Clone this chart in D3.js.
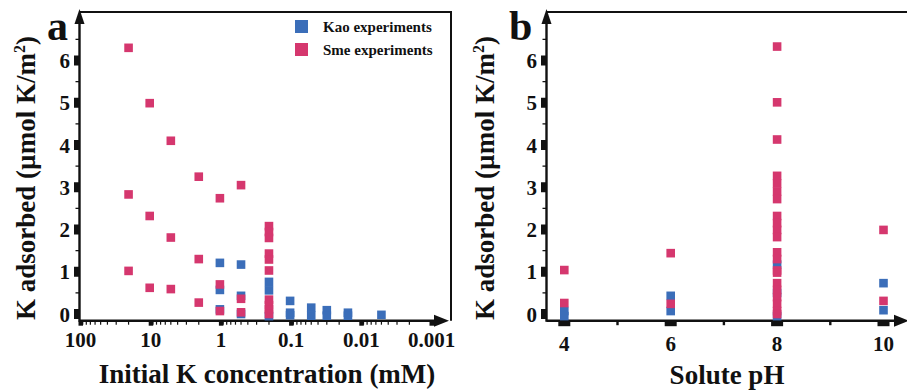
<!DOCTYPE html>
<html>
<head>
<meta charset="utf-8">
<script src="https://cdn.jsdelivr.net/npm/d3@7"></script>
<style>
  body { margin: 0; background: #fff; }
  text { font-family: "Liberation Serif", "Times New Roman", serif; font-weight: bold; fill: #111; }
</style>
</head>
<body>
<div id="main"></div>
<script>
// panel a : K adsorbed vs initial K concentration (mM)
var concKao = [1, 1, 1, 0.5, 0.5, 0.5, 0.2, 0.2, 0.2, 0.1, 0.1, 0.1, 0.05, 0.05, 0.03, 0.03, 0.015, 0.015, 0.005];
var kKao    = [1.21, 0.57, 0.11, 1.17, 0.43, 0.0, 0.76, 0.56, -0.05, 0.31, 0.03, -0.03, 0.15, -0.04, 0.09, -0.04, 0.03, -0.04, -0.02];
var concSme = [20, 20, 20, 10, 10, 10, 5, 5, 5, 2, 2, 2, 1, 1, 1, 0.5, 0.5, 0.5,
               0.2, 0.2, 0.2, 0.2, 0.2, 0.2, 0.2, 0.2, 0.2, 0.2];
var kSme    = [6.30, 2.83, 1.02, 4.99, 2.32, 0.62, 4.10, 1.81, 0.59, 3.25, 1.30, 0.27, 2.74, 0.70, 0.07, 3.05, 0.36, 0.04,
               2.08, 1.94, 1.80, 1.43, 1.29, 1.03, 0.34, 0.21, 0.11, 0.0];

// panel b : K adsorbed vs solute pH
var phKao  = [4, 4, 6, 6, 8, 8, 8, 10, 10];
var kKaoPH = [0.07, -0.05, 0.43, 0.07, 1.17, 0.50, -0.05, 0.73, 0.09];
var phSme  = [4, 4, 6, 6, 10, 10,
              8, 8, 8, 8, 8, 8, 8, 8, 8, 8, 8, 8, 8, 8, 8, 8, 8, 8, 8, 8, 8];
var kSmePH = [1.04, 0.26, 1.44, 0.24, 1.99, 0.31,
              6.33, 5.01, 4.13, 3.27, 3.09, 2.90, 2.72, 2.32, 2.15, 1.99, 1.82, 1.46, 1.30, 1.03, 0.98, 0.73, 0.57, 0.40, 0.24, 0.07, 0.0];

var yTicks = [0, 1, 2, 3, 4, 5, 6];
var concTicks = [100, 10, 1, 0.1, 0.01, 0.001];
var concTickLabels = ["100", "10", "1", "0.1", "0.01", "0.001"];
var phTicks = [4, 6, 8, 10];
var phMinor = [5, 7, 9];
var seriesNames = ["Kao experiments", "Sme experiments"];
var kaoColor = "#3b6eb9", smeColor = "#d5376e";

var W = 907, H = 390;
var topY = 12, axisY = 320.7, sq = 8.6;

var svg = d3.select("#main").append("svg").attr("width", W).attr("height", H);

var y = d3.scaleLinear().domain([0, 6]).range([314, 60.5]);

function yAxis(x0, labelX) {
   svg.append("line").attr("x1", x0).attr("x2", x0).attr("y1", topY + 4).attr("y2", axisY + 1)
      .attr("stroke", "#111").attr("stroke-width", 2.4);
   svg.append("path")
      .attr("d", "M" + x0 + "," + (topY - 3) + " L" + (x0 + 5) + "," + (topY + 12) + " L" + (x0 - 5) + "," + (topY + 12) + "Z")
      .attr("fill", "#111");
   svg.selectAll(null).data(yTicks).enter().append("rect")
      .attr("x", x0 - 5.5).attr("y", function(d) { return y(d) - 5; })
      .attr("width", 5).attr("height", 10).attr("fill", "#111");
   svg.selectAll(null).data(d3.range(0.5, 7, 1)).enter().append("line")
      .attr("x1", x0 - 4).attr("x2", x0).attr("y1", function(d) { return y(d); }).attr("y2", function(d) { return y(d); })
      .attr("stroke", "#111").attr("stroke-width", 1.3);
   svg.selectAll(null).data(yTicks).enter().append("text")
      .attr("x", labelX).attr("y", function(d) { return y(d) + 7.5; })
      .attr("text-anchor", "end").style("font-size", "21px")
      .text(function(d) { return d; });
}

function squares(xs, ys, xsc, color) {
   svg.selectAll(null).data(d3.range(xs.length)).enter().append("rect")
      .attr("x", function(i) { return xsc(xs[i]) - sq / 2; })
      .attr("y", function(i) { return y(ys[i]) - sq / 2; })
      .attr("width", sq).attr("height", sq).attr("fill", color);
}

function yTitle(xb) {
   var t = svg.append("text")
      .attr("transform", "translate(" + xb + ",178) rotate(-90)")
      .attr("text-anchor", "middle").style("font-size", "27px");
   t.append("tspan").text("K adsorbed (\u00b5mol K/m");
   t.append("tspan").attr("dy", -10).style("font-size", "16px").text("2");
   t.append("tspan").attr("dy", 10).text(")");
}

// ---------- panel a ----------
var xa0 = 79.5, xaEnd = 451;
var xa = d3.scaleLog().domain([100, 0.001]).range([xa0, 430.5]);

svg.append("polyline")
   .attr("points", xa0 + "," + topY + " " + xaEnd + "," + topY + " " + xaEnd + "," + axisY)
   .attr("fill", "none").attr("stroke", "#111").attr("stroke-width", 2);
svg.append("line").attr("x1", xa0).attr("x2", xaEnd - 8).attr("y1", axisY).attr("y2", axisY)
   .attr("stroke", "#111").attr("stroke-width", 2.4);
svg.append("path")
   .attr("d", "M" + (xaEnd - 2) + "," + axisY + " L" + (xaEnd - 17) + "," + (axisY - 6) + " L" + (xaEnd - 17) + "," + (axisY + 6) + "Z")
   .attr("fill", "#111");

var minorConc = [];
[10, 1, 0.1, 0.01, 0.001].forEach(function(dec) {
   for (var m = 2; m <= 9; m++) minorConc.push(dec * m);
});
svg.selectAll(null).data(minorConc).enter().append("line")
   .attr("x1", function(d) { return xa(d); }).attr("x2", function(d) { return xa(d); })
   .attr("y1", axisY).attr("y2", axisY + 4).attr("stroke", "#111").attr("stroke-width", 1.2);
svg.selectAll(null).data(concTicks).enter().append("rect")
   .attr("x", function(d) { return xa(d) - 1; }).attr("y", axisY)
   .attr("width", 4.5).attr("height", 5).attr("fill", "#111");
svg.selectAll(null).data(concTicks).enter().append("text")
   .attr("x", function(d) { return xa(d) + 1; }).attr("y", 347)
   .attr("text-anchor", "middle").style("font-size", "21px")
   .text(function(d, i) { return concTickLabels[i]; });

yAxis(xa0, 70);
squares(concKao, kKao, xa, kaoColor);
squares(concSme, kSme, xa, smeColor);

svg.append("text").attr("x", 267).attr("y", 383).attr("text-anchor", "middle")
   .style("font-size", "27px").text("Initial K concentration (mM)");
yTitle(35);
svg.append("text").attr("x", 47).attr("y", 40).style("font-size", "42px").text("a");

// legend
var legend = svg.append("g");
seriesNames.forEach(function(name, i) {
   legend.append("rect").attr("x", 295).attr("y", 20 + i * 23).attr("width", 13).attr("height", 13)
      .attr("fill", i == 0 ? kaoColor : smeColor);
   legend.append("text").attr("x", 323).attr("y", 31.5 + i * 23).style("font-size", "15px").text(name);
});

// ---------- panel b ----------
var xb0 = 546.5;
var xb = d3.scaleLinear().domain([4, 10]).range([564.3, 883.5]);

svg.append("line").attr("x1", xb0).attr("x2", W).attr("y1", topY).attr("y2", topY)
   .attr("stroke", "#111").attr("stroke-width", 2);
svg.append("line").attr("x1", xb0).attr("x2", W - 8).attr("y1", axisY).attr("y2", axisY)
   .attr("stroke", "#111").attr("stroke-width", 2.4);
svg.append("path")
   .attr("d", "M" + (W + 2) + "," + axisY + " L" + (W - 13) + "," + (axisY - 6) + " L" + (W - 13) + "," + (axisY + 6) + "Z")
   .attr("fill", "#111");
svg.selectAll(null).data(phTicks).enter().append("rect")
   .attr("x", function(d) { return xb(d) - 6; }).attr("y", axisY)
   .attr("width", 12).attr("height", 5.5).attr("fill", "#111");
svg.selectAll(null).data(phMinor).enter().append("rect")
   .attr("x", function(d) { return xb(d) - 1.2; }).attr("y", axisY)
   .attr("width", 2.4).attr("height", 4.5).attr("fill", "#111");
svg.selectAll(null).data(phTicks).enter().append("text")
   .attr("x", function(d) { return xb(d); }).attr("y", 351)
   .attr("text-anchor", "middle").style("font-size", "21px")
   .text(function(d) { return d; });

yAxis(xb0, 537);
squares(phKao, kKaoPH, xb, kaoColor);
squares(phSme, kSmePH, xb, smeColor);

svg.append("text").attr("x", 727).attr("y", 384).attr("text-anchor", "middle")
   .style("font-size", "27px").text("Solute pH");
yTitle(494);
svg.append("text").attr("x", 509).attr("y", 40).style("font-size", "42px").text("b");
</script>
</body>
</html>
